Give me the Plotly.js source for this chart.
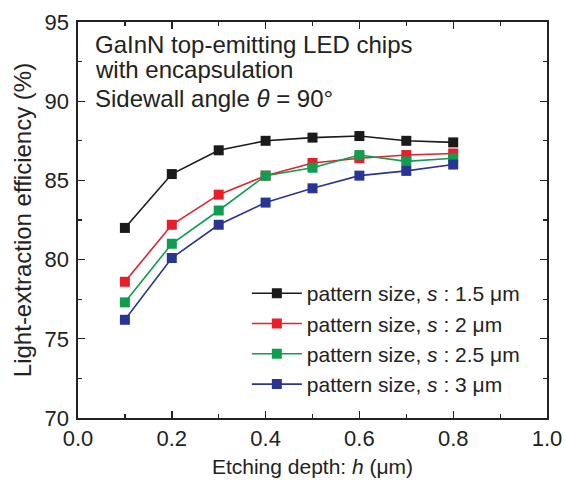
<!DOCTYPE html>
<html>
<head>
<meta charset="utf-8">
<script src="https://cdn.plot.ly/plotly-3.0.1.min.js"></script>
<style>html,body{margin:0;padding:0;background:#fff;}#chart{width:565px;height:487px;}</style>
</head>
<body>
<div id="chart"></div>
<script>
const depth = [0.1, 0.2, 0.3, 0.4, 0.5, 0.6, 0.7, 0.8];
const s15 = [82.0, 85.4, 86.9, 87.5, 87.7, 87.8, 87.5, 87.4];
const s2 = [78.6, 82.2, 84.1, 85.3, 86.1, 86.4, 86.6, 86.7];
const s25 = [77.3, 81.0, 83.1, 85.3, 85.8, 86.6, 86.2, 86.4];
const s3 = [76.2, 80.1, 82.2, 83.6, 84.5, 85.3, 85.6, 86.0];
const seriesNames = ["pattern size, <i>s</i> : 1.5 μm", "pattern size, <i>s</i> : 2 μm", "pattern size, <i>s</i> : 2.5 μm", "pattern size, <i>s</i> : 3 μm"];
const noteLines = ["GaInN top-emitting LED chips", "with encapsulation", "Sidewall angle <i>θ</i> = 90°"];

const colors = ["#1a1a1a", "#e5202b", "#0f9d4f", "#2a3593"];
const allY = [s15, s2, s25, s3];
const font = "Liberation Sans, Arial, sans-serif";

const traces = allY.map((ys, i) => ({
  x: depth, y: ys, name: seriesNames[i], type: "scatter", mode: "lines+markers",
  line: {color: colors[i], width: 1.6},
  marker: {symbol: "square", size: 10, color: colors[i]}
}));

const noteY = [0.942, 0.879, 0.808];
const annotations = noteLines.map((t, i) => ({
  text: t, xref: "paper", yref: "paper", x: 0.033, y: noteY[i],
  xanchor: "left", yanchor: "middle", showarrow: false,
  font: {family: font, size: 24, color: "#222"}
}));

const axisCommon = {
  showline: true, linecolor: "#222", linewidth: 1.6, mirror: "ticks",
  ticks: "inside", ticklen: 7, tickwidth: 1.4, tickcolor: "#222",
  showgrid: false, zeroline: false,
  tickfont: {family: font, size: 22, color: "#222"}
};

const layout = {
  width: 565, height: 487,
  margin: {l: 78, r: 18, t: 22, b: 69},
  paper_bgcolor: "#fff", plot_bgcolor: "#fff",
  showlegend: true,
  legend: {x: 0.36, y: 0.366, xanchor: "left", yanchor: "top",
    bgcolor: "rgba(0,0,0,0)", borderwidth: 0,
    font: {family: font, size: 21, color: "#222"}, tracegroupgap: 0, itemwidth: 50},
  xaxis: Object.assign({}, axisCommon, {
    range: [0, 1], tickvals: [0, 0.2, 0.4, 0.6, 0.8, 1.0], ticktext: ["0.0", "0.2", "0.4", "0.6", "0.8", "1.0"],
    minor: {dtick: 0.1, tick0: 0, ticks: "inside", ticklen: 4, tickwidth: 1.2, tickcolor: "#222"},
    title: {text: "Etching depth: <i>h</i> (μm)", font: {family: font, size: 21, color: "#222"}, standoff: 9}
  }),
  yaxis: Object.assign({}, axisCommon, {
    range: [70, 95], tickvals: [70, 75, 80, 85, 90, 95], ticklabelstandoff: 3,
    minor: {dtick: 2.5, tick0: 70, ticks: "inside", ticklen: 4, tickwidth: 1.2, tickcolor: "#222"},
    title: {text: "Light-extraction efficiency (%)", font: {family: font, size: 24, color: "#222"}, standoff: 6}
  }),
  annotations: annotations
};

Plotly.newPlot("chart", traces, layout, {displayModeBar: false, staticPlot: true});
</script>
</body>
</html>
